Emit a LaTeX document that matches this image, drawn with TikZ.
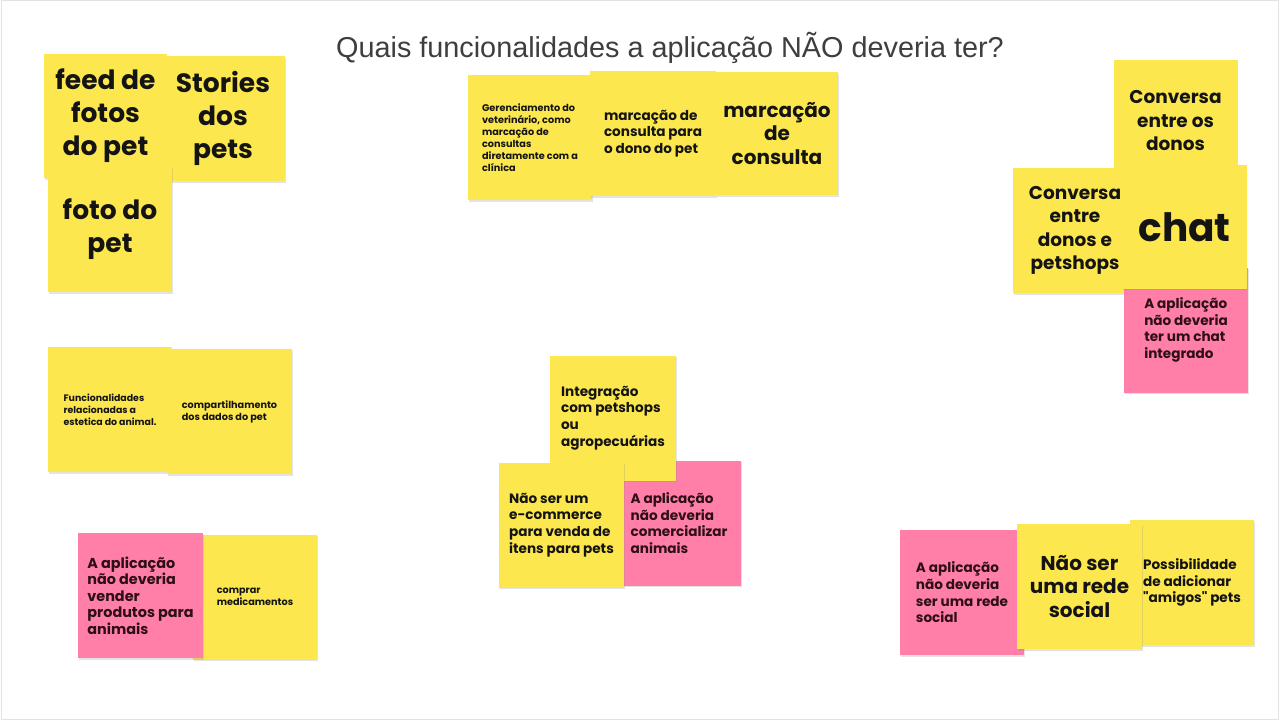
\documentclass[tikz,border=0pt]{standalone}
\usepackage{fontspec}
\setmainfont{Poppins}[Ligatures=TeXOff]
\newfontfamily\titlefont{Liberation Sans}
\usetikzlibrary{shadows}
\definecolor{stickyyellow}{HTML}{FDE74F}
\definecolor{stickypink}{HTML}{FF7FA8}
\definecolor{pinktext}{HTML}{2E0E18}
\definecolor{titlegray}{HTML}{3E3E3E}
\definecolor{framegray}{HTML}{E2E2E2}
\begin{document}
\begin{tikzpicture}[x=1pt,y=-1pt,
  note/.style={inner sep=0pt, minimum width=124pt, minimum height=125pt,
    font=\bfseries, drop shadow={shadow xshift=0.6pt, shadow yshift=-1.8pt, opacity=0.22}},
  yel/.style={note, fill=stickyyellow, text=black!92},
  pnk/.style={note, fill=stickypink, text=pinktext},
  lft/.style={align=left},
  ctr/.style={align=center},
  fsA/.style={font=\bfseries\fontsize{26.5}{33}\selectfont},
  fsB/.style={font=\bfseries\fontsize{20}{23.5}\selectfont},
  fsC/.style={font=\bfseries\fontsize{18.5}{23.5}\selectfont},
  fsD/.style={font=\bfseries\fontsize{13.6}{16.7}\selectfont},
  fsE/.style={font=\bfseries\fontsize{9.7}{12}\selectfont},
  fsChat/.style={font=\bfseries\fontsize{39}{42}\selectfont}
]
\useasboundingbox (0,0) rectangle (1280,722);
\fill[white] (0,0) rectangle (1280,722);
\draw[framegray, line width=1pt] (1,1) rectangle (1278.5,719.5);

% title
\node[anchor=base, text=titlegray, font=\titlefont\fontsize{28.8}{32}\selectfont] (title) at (670,58) {Quais funcionalidades a aplicação NÃO deveria ter?};

% top-left group
\node[yel, fsA, ctr, minimum width=123pt, minimum height=124pt] (feed) at (105.5,116) {feed de\\fotos\\do pet};
\node[yel, fsA, ctr] (stories) at (223,118.5) {Stories\\dos\\pets};
\node[yel, fsA, ctr, minimum height=126pt] (foto) at (110,229) {foto do\\pet};

% top-middle group
\node[yel, fsE, lft] (gerenc) at (530,138) {Gerenciamento do\\veterinário, como\\marcação de\\consultas\\diretamente com a\\clínica};
\node[yel, fsD, lft, minimum width=126pt] (marcdono) at (653,133.5) {marcação de\\consulta para\\o dono do pet};
\node[yel, fsB, ctr, minimum width=122pt, minimum height=123pt] (marc) at (777,133.5) {marcação\\de\\consulta};

% top-right group
\node[yel, fsC, ctr, minimum height=122pt] (convdonos) at (1175.5,121) {Conversa\\entre os\\donos};
\node[yel, fsC, ctr] (convpet) at (1075,230.5) {Conversa\\entre\\donos e\\petshops};
\node[pnk, fsD, lft] (nochat) at (1186,330) {A aplicação\\não deveria\\ter um chat\\integrado};
\node[yel, fsChat, ctr, minimum height=123pt] (chat) at (1184.5,227) {chat};

% middle-left group
\node[yel, lft, font=\bfseries\fontsize{9.4}{12}\selectfont] (estetica) at (110,409.5) {Funcionalidades\\relacionadas a\\estetica do animal.};
\node[yel, fsE, lft, minimum width=125pt] (compart) at (229.5,411.5) {compartilhamento\\dos dados do pet};

% center group
\node[pnk, fsD, lft] (comerc) at (679,523) {A aplicação\\não deveria\\comercializar\\animais};
\node[yel, fsD, lft, minimum width=126pt] (integr) at (613,418) {Integração\\com petshops\\ou\\agropecuárias};
\node[yel, fsD, lft, minimum width=125pt] (ecomm) at (561.5,525) {Não ser um\\e-commerce\\para venda de\\itens para pets};

% bottom-left group
\node[yel, fsE, lft] (medic) at (255,597) {comprar\\medicamentos};
\node[pnk, lft, font=\bfseries\fontsize{14.4}{16.6}\selectfont, minimum width=125pt] (vender) at (140.5,595.5) {A aplicação\\não deveria\\vender\\produtos para\\animais};

% bottom-right group
\node[pnk, fsD, lft] (redepink) at (962,592.5) {A aplicação\\não deveria\\ser uma rede\\social};
\node[yel, fsD, lft] (amigos) at (1192,582.5) {Possibilidade\\de adicionar\\"amigos" pets};
\node[yel, fsB, ctr, minimum width=125pt] (rede) at (1079.5,586.5) {Não ser\\uma rede\\social};
\end{tikzpicture}
\end{document}
